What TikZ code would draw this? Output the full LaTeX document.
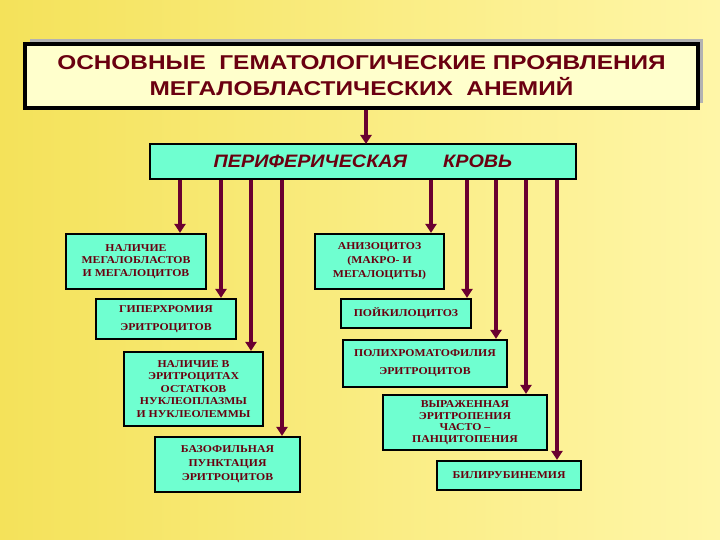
\documentclass[tikz,border=0pt]{standalone}
\usepackage{fontspec}
\setmainfont{Liberation Serif}[FakeStretch=1.12]
\newfontfamily\titlefont{Liberation Sans}[FakeStretch=1.22]
\newfontfamily\perifont{Liberation Sans}[FakeStretch=1.1]
\usetikzlibrary{arrows.meta}
\definecolor{bgA}{HTML}{F4E25A}
\definecolor{bgB}{HTML}{FFF6A8}
\definecolor{aqua}{HTML}{6FFFD0}
\definecolor{txt}{HTML}{6A0010}
\definecolor{arr}{HTML}{6A0030}
\definecolor{ttl}{HTML}{FFFFCC}
\tikzset{
  bx/.style={draw=black,line width=2.2pt,fill=aqua,text=txt,font=\bfseries\fontsize{10.5}{12.5}\selectfont,align=center,inner sep=0pt},
  ar/.style={draw=arr,line width=3.4pt,-{Triangle[length=9pt,width=11pt]}}
}
\begin{document}
\begin{tikzpicture}[x=1pt,y=-1pt]
\useasboundingbox (0,0) rectangle (720,540);
\shade[left color=bgA,right color=bgB] (0,0) rectangle (720,540);
% title
\fill[gray!60] (30,39) rectangle (703,103);
\node[draw=black,line width=3.2pt,fill=ttl,minimum width=673pt,minimum height=64pt,inner sep=0pt,align=center,text=txt,font=\titlefont\bfseries\fontsize{20}{26}\selectfont] (T) at (361.5,76) {ОСНОВНЫЕ\ \ ГЕМАТОЛОГИЧЕСКИЕ ПРОЯВЛЕНИЯ\\МЕГАЛОБЛАСТИЧЕСКИХ\ \ АНЕМИЙ};
\node[draw=black,line width=2.2pt,fill=aqua,minimum width=426pt,minimum height=35pt,inner sep=0pt,text=txt,font=\perifont\bfseries\itshape\fontsize{18}{20}\selectfont] (P) at (363,161.5) {ПЕРИФЕРИЧЕСКАЯ\qquad КРОВЬ};
\draw[ar] (T.south -| 366,0) -- (366,144);
% boxes
\node[bx,minimum width=140pt,minimum height=55pt] (A) at (136,261.5) {НАЛИЧИЕ\\МЕГАЛОБЛАСТОВ\\И МЕГАЛОЦИТОВ};
\node[bx,minimum width=140pt,minimum height=40pt,font=\bfseries\fontsize{10.5}{18}\selectfont] (B) at (166,319) {ГИПЕРХРОМИЯ\\ЭРИТРОЦИТОВ};
\node[bx,minimum width=139pt,minimum height=74pt,font=\bfseries\fontsize{10.5}{12.5}\selectfont] (C) at (193.5,389) {НАЛИЧИЕ В\\ЭРИТРОЦИТАХ\\ОСТАТКОВ\\НУКЛЕОПЛАЗМЫ\\И НУКЛЕОЛЕММЫ};
\node[bx,minimum width=145pt,minimum height=55pt,font=\bfseries\fontsize{10.5}{14}\selectfont] (D) at (227.5,464.5) {БАЗОФИЛЬНАЯ\\ПУНКТАЦИЯ\\ЭРИТРОЦИТОВ};
\node[bx,minimum width=129pt,minimum height=55pt,font=\bfseries\fontsize{10.5}{14}\selectfont] (E) at (379.5,261.5) {АНИЗОЦИТОЗ\\(МАКРО- И\\МЕГАЛОЦИТЫ)};
\node[bx,minimum width=130pt,minimum height=29pt] (F) at (406,313.5) {ПОЙКИЛОЦИТОЗ};
\node[bx,minimum width=164pt,minimum height=47pt,font=\bfseries\fontsize{10.5}{18}\selectfont] (G) at (425,363.5) {ПОЛИХРОМАТОФИЛИЯ\\ЭРИТРОЦИТОВ};
\node[bx,minimum width=164pt,minimum height=55pt,font=\bfseries\fontsize{10.5}{11.5}\selectfont] (H) at (465,422.5) {ВЫРАЖЕННАЯ\\ЭРИТРОПЕНИЯ\\ЧАСТО –\\ПАНЦИТОПЕНИЯ};
\node[bx,minimum width=144pt,minimum height=29pt] (I) at (509,475.5) {БИЛИРУБИНЕМИЯ};
% arrows
\draw[ar] (P.south -| 180,0) -- (A.north -| 180,0);
\draw[ar] (P.south -| 221,0) -- (B.north -| 221,0);
\draw[ar] (P.south -| 251,0) -- (C.north -| 251,0);
\draw[ar] (P.south -| 282,0) -- (D.north -| 282,0);
\draw[ar] (P.south -| 431,0) -- (E.north -| 431,0);
\draw[ar] (P.south -| 467,0) -- (F.north -| 467,0);
\draw[ar] (P.south -| 496,0) -- (G.north -| 496,0);
\draw[ar] (P.south -| 526,0) -- (H.north -| 526,0);
\draw[ar] (P.south -| 557,0) -- (I.north -| 557,0);
\end{tikzpicture}
\end{document}
